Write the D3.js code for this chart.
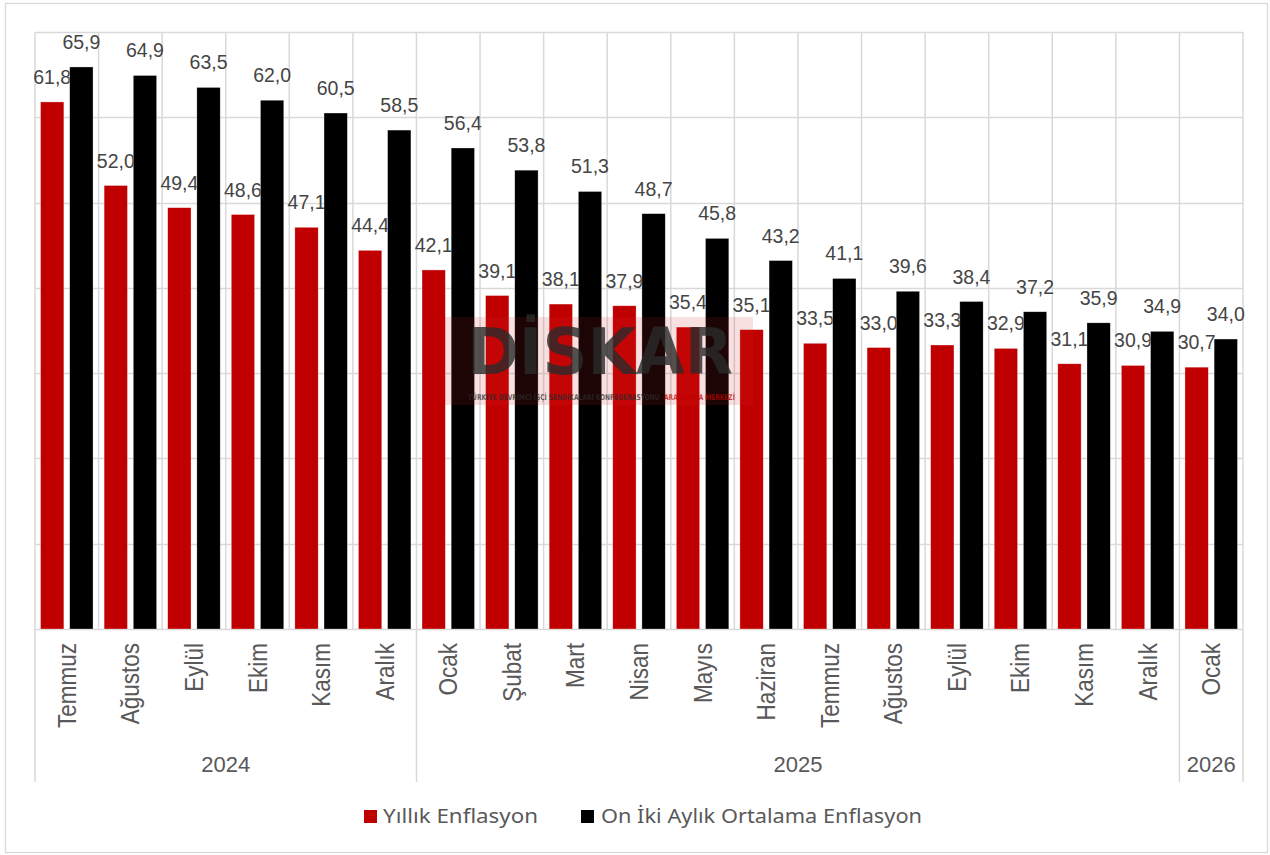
<!DOCTYPE html>
<html>
<head>
<meta charset="utf-8">
<script src="https://cdn.jsdelivr.net/npm/d3@7"></script>
<style>
  body { margin: 0; background: #fff; }
  svg { display: block; }
</style>
</head>
<body>
<div id="chart"></div>
<script>
// aylar ve yil gruplari
var months = ["Temmuz", "Ağustos", "Eylül", "Ekim", "Kasım", "Aralık",
              "Ocak", "Şubat", "Mart", "Nisan", "Mayıs", "Haziran",
              "Temmuz", "Ağustos", "Eylül", "Ekim", "Kasım", "Aralık",
              "Ocak"];
var years = ["2024", "2025", "2026"];
var yearCounts = [6, 12, 1];

var seriesNames = ["Yıllık Enflasyon", "On İki Aylık Ortalama Enflasyon"];
var yillik   = [61.8, 52.0, 49.4, 48.6, 47.1, 44.4, 42.1, 39.1, 38.1, 37.9, 35.4, 35.1, 33.5, 33.0, 33.3, 32.9, 31.1, 30.9, 30.7];
var ortalama = [65.9, 64.9, 63.5, 62.0, 60.5, 58.5, 56.4, 53.8, 51.3, 48.7, 45.8, 43.2, 41.1, 39.6, 38.4, 37.2, 35.9, 34.9, 34.0];
var yTicks = [0, 10, 20, 30, 40, 50, 60, 70];

var colors = ["#c00000", "#000000"];
var width = 1270, height = 855;
// note: "top" is reserved on window, so plotTop
var plotLeft = 35, plotRight = 1243, plotTop = 32, base = 629, axisBottom = 782;
var gridColor = "#d9d9d9";
var textColor = "#595959";

var svg = d3.select("#chart").append("svg")
    .attr("width", width)
    .attr("height", height);

// chart area border
svg.append("rect")
    .attr("x", 5.5).attr("y", 3.5)
    .attr("width", 1262).attr("height", 849)
    .attr("fill", "#fff")
    .attr("stroke", gridColor)
    .attr("stroke-width", 1.3);

var idx = d3.range(months.length);
var x0 = d3.scaleBand().domain(idx).range([plotLeft, plotRight]).paddingInner(0).paddingOuter(0);
var x1 = d3.scaleBand().domain([0, 1]).range([0, x0.bandwidth()]).paddingInner(0.2).paddingOuter(0.19);
var y = d3.scaleLinear().domain([0, 70]).range([base, plotTop]);

function edgeX(d) { return d < months.length ? x0(d) : plotRight; }

// horizontal gridlines
svg.append("g").selectAll("line")
    .data(yTicks)
    .enter().append("line")
    .attr("x1", plotLeft).attr("x2", plotRight)
    .attr("y1", function(d) { return Math.round(y(d)) + 0.5; })
    .attr("y2", function(d) { return Math.round(y(d)) + 0.5; })
    .attr("stroke", gridColor)
    .attr("stroke-width", 1.5);

// vertical category gridlines (in the plot)
svg.append("g").selectAll("line")
    .data(idx.concat([months.length]))
    .enter().append("line")
    .attr("x1", edgeX).attr("x2", edgeX)
    .attr("y1", plotTop).attr("y2", base)
    .attr("stroke", gridColor)
    .attr("stroke-width", 1.5);

// year separators below the axis
var yearStarts = [];
var acc = 0;
yearCounts.forEach(function(c) { yearStarts.push(acc); acc += c; });
svg.append("g").selectAll("line")
    .data(yearStarts.concat([months.length]))
    .enter().append("line")
    .attr("x1", edgeX).attr("x2", edgeX)
    .attr("y1", base).attr("y2", axisBottom)
    .attr("stroke", gridColor)
    .attr("stroke-width", 1.5);

// bars + labels, red first so black bars sit over red labels
var seriesData = [yillik, ortalama];
seriesData.forEach(function(vals, s) {
  var g = svg.append("g");
  g.selectAll("rect")
      .data(vals)
      .enter().append("rect")
      .attr("x", function(d, i) { return x0(i) + x1(s); })
      .attr("y", function(d) { return y(d); })
      .attr("width", x1.bandwidth())
      .attr("height", function(d) { return base - y(d); })
      .attr("fill", colors[s])
      .attr("stroke", "#fff")
      .attr("stroke-opacity", 0.5)
      .attr("stroke-width", 0.6);
  g.selectAll("text")
      .data(vals)
      .enter().append("text")
      .attr("x", function(d, i) { return x0(i) + x1(s) + x1.bandwidth() / 2; })
      .attr("y", function(d) { return y(d) - 18; })
      .attr("text-anchor", "middle")
      .attr("font-family", "Liberation Sans, Arial, sans-serif")
      .attr("font-size", 19.5)
      .attr("fill", "#454545")
      .text(function(d) { return d.toFixed(1).replace(".", ","); });
});

// month labels, rotated
svg.append("g").selectAll("text")
    .data(months)
    .enter().append("text")
    .attr("transform", function(d, i) {
      return "translate(" + (x0(i) + x0.bandwidth() / 2) + "," + 643 + ") rotate(-90) scale(0.9,1)";
    })
    .attr("dy", "0.36em")
    .attr("text-anchor", "end")
    .attr("font-family", "Liberation Sans, Arial, sans-serif")
    .attr("font-size", 25)
    .attr("fill", textColor)
    .text(function(d) { return d; });

// year labels
svg.append("g").selectAll("text")
    .data(years)
    .enter().append("text")
    .attr("x", function(d, i) {
      return (edgeX(yearStarts[i]) + edgeX(yearStarts[i] + yearCounts[i])) / 2;
    })
    .attr("y", 772)
    .attr("text-anchor", "middle")
    .attr("font-family", "Liberation Sans, Arial, sans-serif")
    .attr("font-size", 22)
    .attr("fill", textColor)
    .text(function(d) { return d; });

// watermark
var wm = svg.append("g");
wm.append("rect")
    .attr("x", 445).attr("y", 317)
    .attr("width", 308).attr("height", 88)
    .attr("fill", "#d42020")
    .attr("fill-opacity", 0.14);
wm.append("text")
    .attr("x", 467).attr("y", 374)
    .attr("textLength", 266)
    .attr("lengthAdjust", "spacingAndGlyphs")
    .attr("font-family", "DejaVu Sans, sans-serif")
    .attr("font-weight", "bold")
    .attr("font-size", 64)
    .attr("fill", "#2a2a2a")
    .attr("fill-opacity", 0.8)
    .text("DİSKAR");
var subParts = [
  { t: "TÜRKİYE DEVRİMCİ İŞÇİ SENDİKALARI KONFEDERASYONU", x: 468, w: 192, c: "#2a2a2a" },
  { t: "ARAŞTIRMA MERKEZİ", x: 664, w: 71, c: "#c00000" }
];
// squeeze each part horizontally to its width
wm.selectAll(".sub")
    .data(subParts)
    .enter().append("text")
    .attr("class", "sub")
    .attr("font-family", "DejaVu Sans Condensed, DejaVu Sans, sans-serif")
    .attr("font-weight", "bold")
    .attr("font-size", 8)
    .attr("fill", function(d) { return d.c; })
    .attr("fill-opacity", 0.75)
    .text(function(d) { return d.t; })
    .attr("transform", function(d) {
      var len = this.getComputedTextLength() || d.w;
      return "translate(" + d.x + ",400) scale(" + (d.w / len) + ",1)";
    });

// legend
var legendX = [364, 581];
var legendW = [155, 321];
var legend = svg.append("g").selectAll("g")
    .data(seriesNames)
    .enter().append("g")
    .attr("transform", function(d, i) { return "translate(" + legendX[i] + ",810)"; });
legend.append("rect")
    .attr("width", 13).attr("height", 13)
    .attr("fill", function(d, i) { return colors[i]; });
legend.append("text")
    .attr("x", function(d, i) { return i === 0 ? 19 : 20; })
    .attr("y", 13)
    .attr("textLength", function(d, i) { return legendW[i]; })
    .attr("lengthAdjust", "spacingAndGlyphs")
    .attr("font-family", "Noto Sans, sans-serif")
    .attr("font-size", 20)
    .attr("fill", textColor)
    .text(function(d) { return d; });
</script>
</body>
</html>
